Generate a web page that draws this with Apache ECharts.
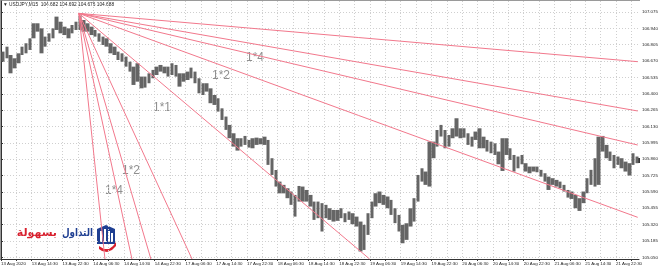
<!DOCTYPE html>
<html><head><meta charset="utf-8">
<script src="https://cdn.jsdelivr.net/npm/echarts@6/dist/echarts.min.js"></script>
<style>html,body{margin:0;padding:0;background:#fff}#c{width:659px;height:271px}</style>
</head><body><div id="c"></div>
<script>
// time axis in hours (4 x M15 bars per column)
const xTickLabels = ['13 Aug 2020','13 Aug 14:30','13 Aug 22:30','14 Aug 06:30','14 Aug 14:30','14 Aug 22:30','17 Aug 06:30','17 Aug 14:30','17 Aug 22:30','18 Aug 06:30','18 Aug 14:30','18 Aug 22:30','19 Aug 06:30','19 Aug 14:30','19 Aug 22:30','20 Aug 06:30','20 Aug 14:30','20 Aug 22:30','21 Aug 06:30','21 Aug 14:30','21 Aug 22:30'];
const yTickLabels = ['107.075','106.940','106.805','106.670','106.535','106.400','106.265','106.130','105.995','105.860','105.725','105.590','105.455','105.320','105.185','105.050'];

const highs = [106.748,106.789,106.720,106.693,106.734,106.789,106.817,106.858,106.982,106.982,
106.940,106.872,106.899,106.940,107.037,106.995,106.954,106.940,106.968,106.995,
107.060,107.009,106.982,106.954,106.927,106.899,106.872,106.858,106.817,106.789,
106.748,106.734,106.707,106.665,106.624,106.652,106.542,106.542,106.569,106.597,
106.624,106.638,106.624,106.624,106.652,106.638,106.569,106.569,106.583,106.616,
106.583,106.528,106.487,106.487,106.445,106.390,106.363,106.280,106.212,106.143,
106.074,106.033,106.033,106.052,106.019,106.033,106.038,106.033,106.046,106.019,
105.868,105.771,105.675,105.648,105.620,105.593,105.565,105.639,105.634,105.606,
105.565,105.510,105.510,105.497,105.483,105.455,105.441,105.441,105.455,105.414,
105.428,105.414,105.386,105.345,105.318,105.414,105.510,105.579,105.593,105.565,
105.552,105.524,105.455,105.400,105.318,105.331,105.455,105.538,105.730,105.785,
105.758,106.005,106.005,106.101,106.143,106.101,106.060,106.115,106.198,106.115,
106.115,106.074,106.046,106.088,106.115,106.046,106.019,106.005,105.991,105.923,
106.033,106.033,105.950,105.895,105.882,105.895,105.827,105.799,105.799,105.799,
105.772,105.744,105.716,105.703,105.689,105.675,105.648,105.606,105.593,105.565,
105.538,105.593,105.703,105.772,105.868,106.046,106.052,105.978,105.923,105.895,
105.882,105.868,105.840,105.827,105.909,105.882];
const lows = [106.665,106.693,106.569,106.610,106.652,106.720,106.734,106.762,106.858,106.913,
106.734,106.789,106.830,106.858,106.927,106.899,106.885,106.858,106.899,106.927,
106.927,106.913,106.913,106.885,106.872,106.830,106.803,106.789,106.734,106.720,
106.679,106.665,106.624,106.583,106.473,106.500,106.445,106.451,106.487,106.528,
106.555,106.583,106.569,106.542,106.555,106.542,106.459,106.500,106.514,106.528,
106.487,106.404,106.390,106.418,106.322,106.308,106.253,106.184,106.102,106.033,
105.964,105.931,105.964,105.978,105.956,105.950,105.978,105.983,105.978,105.813,
105.730,105.634,105.578,105.578,105.538,105.483,105.386,105.510,105.510,105.510,
105.469,105.359,105.373,105.263,105.373,105.359,105.345,105.351,105.373,105.340,
105.359,105.323,105.304,105.098,105.111,105.235,105.373,105.469,105.497,105.483,
105.455,105.400,105.332,105.263,105.166,105.194,105.304,105.345,105.510,105.675,
105.648,105.634,105.868,105.964,106.047,105.950,105.964,106.033,106.047,106.033,
106.038,105.978,105.964,106.019,105.950,105.950,105.923,105.909,105.895,105.818,
105.763,105.895,105.854,105.758,105.785,105.818,105.758,105.744,105.758,105.752,
105.716,105.675,105.606,105.648,105.634,105.620,105.593,105.543,105.532,105.455,
105.433,105.497,105.579,105.648,105.634,105.648,105.923,105.868,105.846,105.785,
105.813,105.785,105.758,105.725,105.813,105.827];

// Gann fan: origin and the end of each ray (hour, price)
const fanOrigin = [20.25, 107.064];
const fanAnchor = [56.7, 106.087];
const fanEndHours  = [165.67, 165.67, 165.67, 165.67, 95.9, 49.7, 39.0, 34.07, 27.05];
const fanEndPrices = [106.665, 106.258, 105.977, 105.380, 105.036, 105.036, 105.036, 105.036, 105.036];
const fanLabels = ['1*4','1*2','1*1','1*2','1*4'];

const chart = echarts.init(document.getElementById('c'), null, {renderer:'canvas'});
const candleData = lows.map((l,i)=>[i+0.5, l, highs[i], l, highs[i]]);
const gridColor = '#cfcfcf';
const fanColor = '#f2788c';
const series = [{
  type:'candlestick', data:candleData, encode:{x:0,y:[1,2,3,4]},
  barWidth:4, barMinWidth:4, silent:true, animation:false, large:false,
  itemStyle:{color:'#656565',color0:'#656565',borderColor:'#656565',borderColor0:'#656565',borderWidth:0}
}];
fanEndHours.forEach((h,i)=>{
  series.push({type:'line', data:[fanOrigin,[h,fanEndPrices[i]]], symbol:'none', silent:true, animation:false,
    lineStyle:{color:fanColor,width:1}, clip:true});
});
series.push({type:'scatter', data:[fanOrigin,fanAnchor], symbol:'emptyCircle', symbolSize:4, silent:true, animation:false,
  itemStyle:{color:'#fff',borderColor:'#e8506a',borderWidth:1}});

const lblFont = '12px "Liberation Sans", Arial, sans-serif';
const lblPos = [[255,58],[221,76],[162,108],[131,171],[114,191]];
const graphic = [
  {type:'text', x:3, y:5, style:{text:'\u25BC USDJPY,M15  104.682 104.692 104.676 104.688', fill:'#222', font:'4.8px "Liberation Sans", Arial', verticalAlign:'middle'}},
  {type:'rect', shape:{x:0,y:0,width:640,height:1}, style:{fill:'#9a9a9a'}},
  {type:'rect', shape:{x:0,y:0,width:1,height:260}, style:{fill:'#9a9a9a'}},
  {type:'rect', shape:{x:636,y:158,width:4,height:5}, style:{fill:'#333'}},
  // logo
  {type:'text', x:93, y:233, scaleX:0.8, style:{text:'التداول', fill:'#1f3f92', font:'bold 11px "DejaVu Sans"', textAlign:'right', verticalAlign:'middle'}},
  {type:'text', x:57, y:233, scaleX:1.0, style:{text:'بسهولة', fill:'#d8202e', font:'bold 11px "DejaVu Sans"', textAlign:'right', verticalAlign:'middle'}},
  {type:'polygon', shape:{points:[[97,229],[106,225],[115,229],[115,244],[97,244]]}, style:{fill:'#1f3f92'}},
  {type:'rect', shape:{x:100,y:231,width:2,height:11}, style:{fill:'#fff'}},
  {type:'rect', shape:{x:104,y:229,width:2,height:13}, style:{fill:'#fff'}},
  {type:'rect', shape:{x:108,y:231,width:2,height:11}, style:{fill:'#fff'}},
  {type:'rect', shape:{x:111,y:233,width:2,height:9}, style:{fill:'#fff'}},
  {type:'polygon', shape:{points:[[99,246],[104,249],[109,249],[113,246],[116,242],[116,246],[112,250],[107,252],[102,251],[99,249]]}, style:{fill:'#d8202e'}}
];
lblPos.forEach((p,i)=>graphic.push({type:'text', x:p[0], y:p[1], style:{text:fanLabels[i], fill:'#8f8f8f', font:lblFont, textAlign:'center', verticalAlign:'middle'}}));

chart.setOption({
  animation:false, backgroundColor:'#fff',
  grid:{left:1, right:20, top:1, bottom:12, containLabel:false, outerBoundsMode:'none'},
  xAxis:{type:'value', min:0, max:166,
    axisLine:{show:true,lineStyle:{color:'#333',width:1}},
    axisTick:{show:true, length:2, lineStyle:{color:'#333'}, customValues:Array.from({length:42},(_,i)=>i*4)},
    axisLabel:{customValues:xTickLabels.map((_,i)=>i*8), formatter:v=>xTickLabels[Math.round(v/8)]||'', align:'left', margin:3,
      fontSize:4.4, color:'#222', fontFamily:'"Liberation Sans", Arial'},
    splitLine:{show:true, lineStyle:{color:gridColor, type:[1,2], width:1}}},
  yAxis:{type:'value', position:'right', min:105.036, max:107.166,
    axisLine:{show:true,lineStyle:{color:'#333',width:1}},
    axisTick:{show:true, length:2, lineStyle:{color:'#333'}, customValues:yTickLabels.map(Number)},
    axisLabel:{customValues:yTickLabels.map(Number), formatter:v=>v.toFixed(3), margin:3, fontSize:4.4, color:'#222', fontFamily:'"Liberation Sans", Arial'},
    splitLine:{show:true, lineStyle:{color:gridColor, type:[1,2], width:1}}},
  series, graphic
});
</script></body></html>
